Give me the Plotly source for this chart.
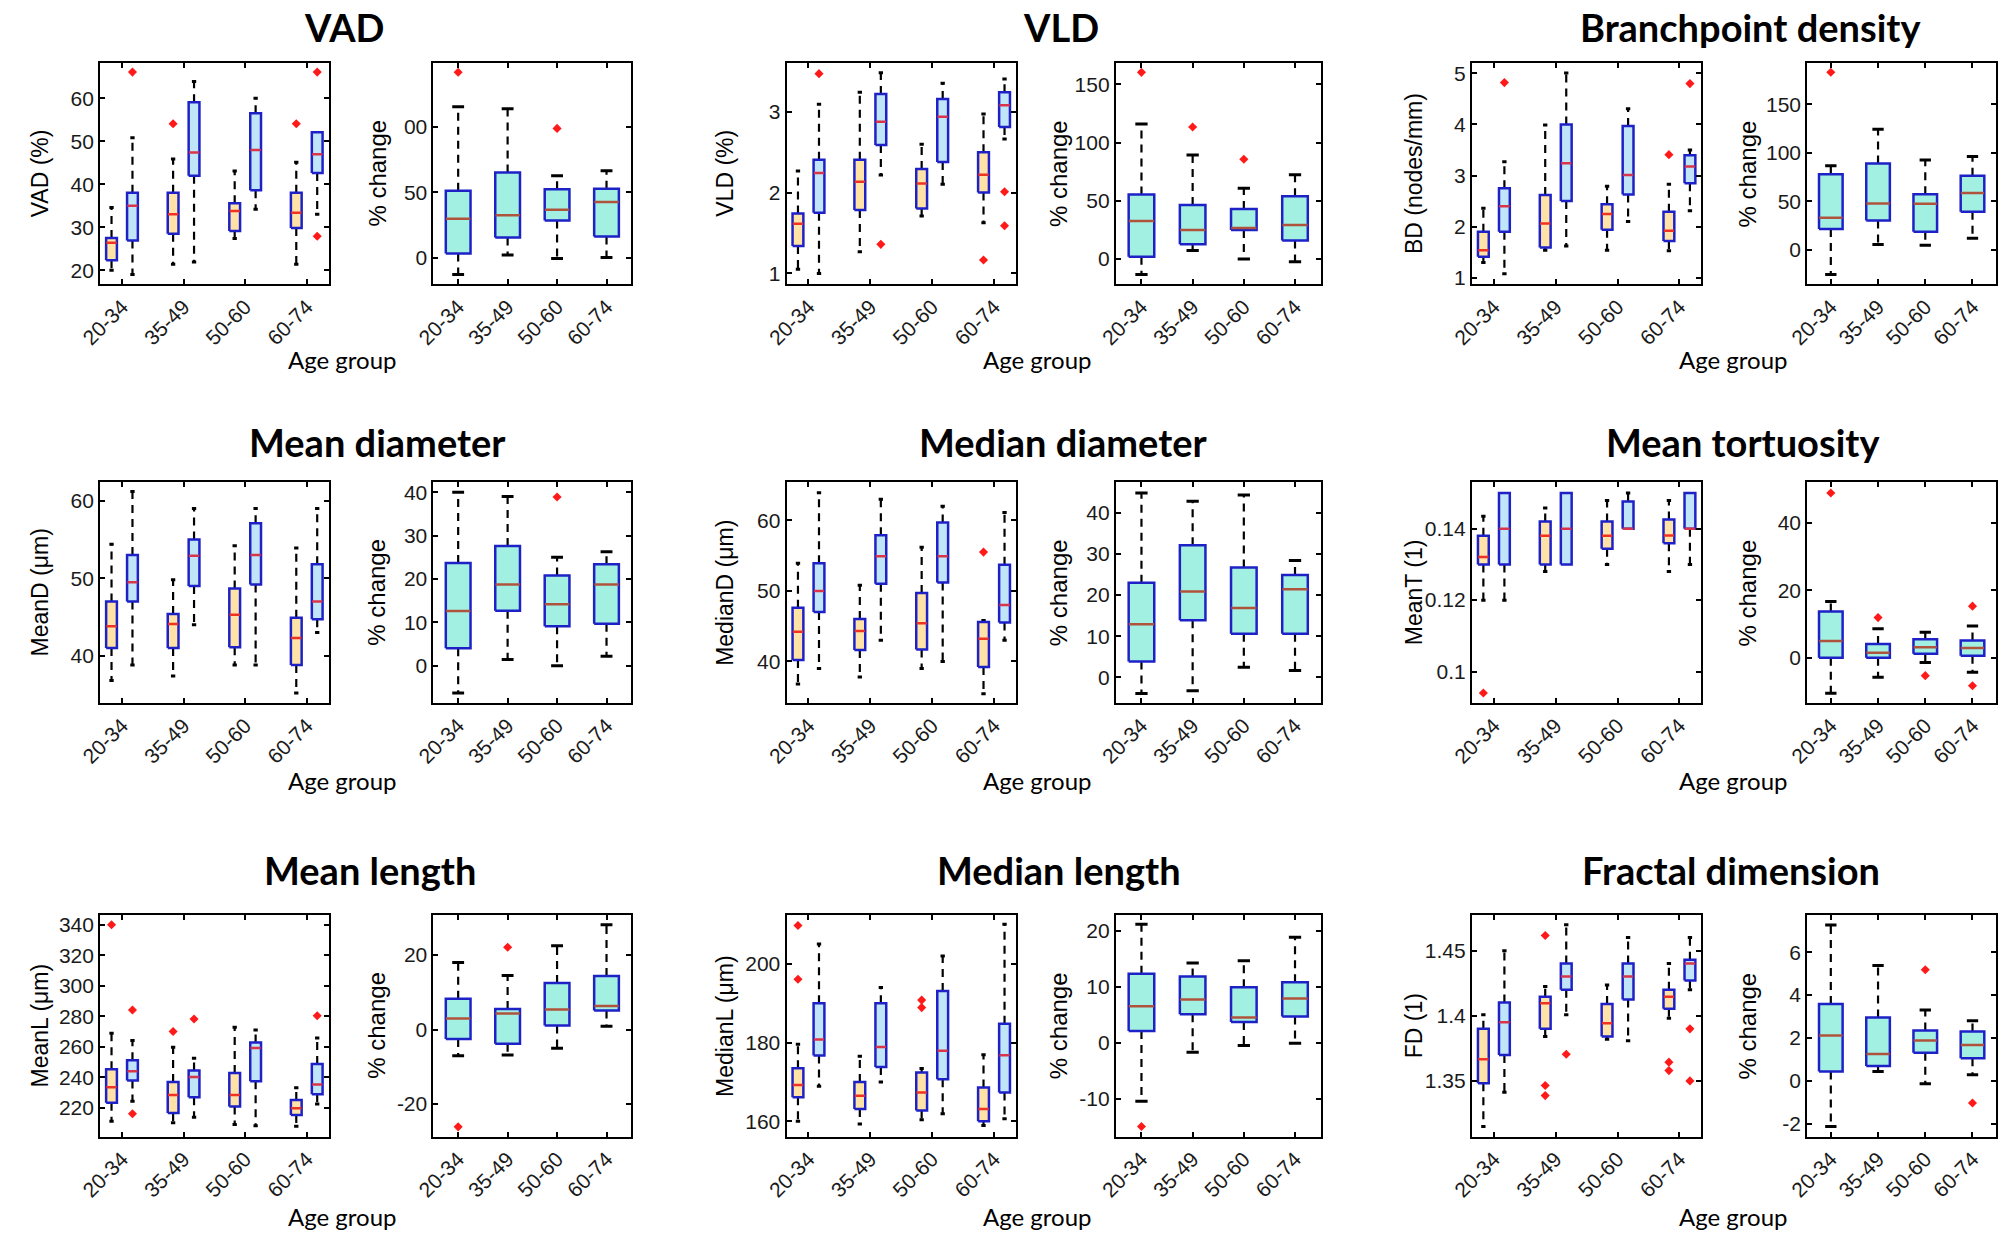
import plotly.graph_objects as go

W, H = 2006, 1238

groups = ["20-34", "35-49", "50-60", "60-74"]

# stats per group: [lower whisker, q1, median, q3, upper whisker]
vad_a = [[20.0, 22.3, 26.4, 27.5, 34.6], [21.4, 28.5, 33.0, 38.0, 45.9], [27.4, 29.1, 33.8, 35.6, 43.1], [21.4, 29.8, 33.4, 38.0, 45.1]]
vad_a_out = [[], [54.1], [], [54.1]]
vad_b = [[19.0, 26.9, 35.0, 38.0, 50.8], [21.9, 42.0, 47.4, 59.1, 63.9], [34.2, 38.6, 48.0, 56.5, 60.0], [33.0, 42.6, 47.0, 52.1, 52.1]]
vad_b_out = [[66.1], [], [], [66.1, 27.9]]
vad_pct = [[-12.4, 3.6, 30.0, 51.3, 115.2], [2.3, 15.7, 32.7, 65.2, 113.7], [-0.3, 28.7, 36.8, 52.3, 62.7], [0.5, 16.5, 42.6, 52.8, 66.5]]
vad_pct_out = [[141.4], [], [98.7], []]

vld_a = [[1.05, 1.338, 1.614, 1.742, 2.266], [1.268, 1.784, 2.134, 2.406, 3.239], [1.709, 1.804, 2.113, 2.291, 2.596], [1.627, 2.0, 2.221, 2.497, 2.971]]
vld_a_out = [[], [], [], [1.165]]
vld_b = [[1.0, 1.75, 2.241, 2.406, 3.091], [2.216, 2.588, 2.876, 3.219, 3.482], [2.101, 2.377, 2.938, 3.157, 3.351], [2.662, 2.81, 3.078, 3.239, 3.404]]
vld_b_out = [[3.47], [1.359], [], [2.01, 1.59]]
vld_pct = [[-13.2, 2.0, 32.6, 55.5, 115.9], [7.4, 12.6, 24.9, 46.4, 89.3], [0.0, 24.9, 26.6, 42.9, 60.7], [-2.3, 16.0, 29.2, 53.8, 72.4]]
vld_pct_out = [[160.3], [113.4], [85.6], []]

bd_a = [[1.30, 1.41, 1.54, 1.90, 2.36], [1.54, 1.59, 2.06, 2.62, 3.99], [1.54, 1.94, 2.25, 2.44, 2.79], [1.53, 1.72, 1.92, 2.29, 2.83]]
bd_a_out = [[], [], [], [3.41]]
bd_b = [[1.08, 1.90, 2.40, 2.75, 3.27], [1.62, 2.50, 3.24, 4.00, 5.01], [2.10, 2.63, 3.01, 3.97, 4.31], [2.31, 2.85, 3.18, 3.40, 3.50]]
bd_b_out = [[4.82], [], [], [4.80]]
bd_pct = [[-25.1, 21.6, 33.3, 77.9, 86.8], [5.8, 30.5, 48.0, 89.2, 124.3], [4.8, 18.9, 47.7, 57.3, 92.7], [12.0, 39.5, 58.7, 76.5, 96.4]]
bd_pct_out = [[183.0], [], [], []]

meand_a = [[36.8, 41.0, 43.8, 47.0, 54.4], [37.4, 41.0, 44.1, 45.4, 49.8], [38.8, 41.1, 45.3, 48.7, 54.2], [35.2, 38.8, 42.3, 44.9, 53.9]]
meand_a_out = [[], [], [], []]
meand_b = [[38.8, 47.0, 49.5, 53.0, 61.2], [44.0, 49.0, 52.9, 55.0, 59.0], [38.8, 49.2, 53.0, 57.1, 59.0], [43.0, 44.7, 47.0, 51.8, 59.0]]
meand_b_out = [[], [], [], []]
meand_pct = [[-6.3, 4.0, 12.6, 23.7, 40.0], [1.45, 12.7, 18.7, 27.6, 39.0], [0.0, 9.1, 14.2, 20.8, 25.0], [2.2, 9.7, 18.7, 23.4, 26.3]]
meand_pct_out = [[], [], [38.9], []]

mediand_a = [[36.8, 40.2, 44.2, 47.6, 53.9], [37.8, 41.6, 44.3, 46.0, 50.8], [39.0, 41.7, 45.4, 49.7, 56.2], [35.4, 39.2, 43.2, 45.6, 45.8]]
mediand_a_out = [[], [], [], [55.5]]
mediand_b = [[39.0, 47.0, 50.0, 53.9, 63.9], [43.0, 51.0, 54.9, 57.9, 63.0], [40.0, 51.2, 54.9, 59.7, 62.0], [43.0, 45.5, 48.0, 53.7, 61.1]]
mediand_b_out = [[], [], [], []]
mediand_pct = [[-3.9, 3.9, 12.9, 23.0, 44.8], [-3.2, 13.9, 20.9, 32.1, 42.8], [2.5, 10.6, 16.9, 26.7, 44.3], [1.7, 10.6, 21.4, 24.9, 28.4]]
mediand_pct_out = [[], [], [], []]

meant_a = [[0.120, 0.130, 0.1321, 0.138, 0.1435], [0.128, 0.130, 0.138, 0.142, 0.1458], [0.130, 0.1344, 0.138, 0.142, 0.1479], [0.128, 0.1359, 0.1381, 0.1426, 0.1479]]
meant_a_out = [[0.094], [], [], []]
meant_b = [[0.120, 0.130, 0.140, 0.150, 0.150], [0.130, 0.130, 0.140, 0.150, 0.150], [0.140, 0.140, 0.140, 0.1476, 0.150], [0.130, 0.140, 0.140, 0.150, 0.150]]
meant_b_out = [[], [], [], []]
meant_pct = [[-10.5, 0.0, 5.0, 13.7, 16.7], [-5.8, 0.0, 1.5, 4.1, 8.6], [-1.4, 1.2, 3.1, 5.5, 7.6], [-4.3, 0.6, 2.9, 5.1, 9.4]]
meant_pct_out = [[48.8], [11.9], [-5.3], [15.3, -8.3]]

meanl_a = [[211.3, 223.3, 233.5, 245.3, 268.9], [210.2, 216.7, 228.5, 237.0, 259.7], [209.1, 220.9, 228.5, 242.9, 272.8], [208.0, 215.4, 219.8, 225.2, 233.1]]
meanl_a_out = [[340.0], [270.0], [], []]
meanl_b = [[224.4, 237.9, 244.0, 251.2, 264.1], [213.9, 227.0, 240.3, 244.4, 252.5], [208.2, 237.4, 259.3, 262.8, 271.0], [222.6, 228.9, 235.3, 248.8, 265.8]]
meanl_b_out = [[284.1, 216.1], [278.2], [], [280.4]]
meanl_pct = [[-7.0, -2.5, 3.0, 8.3, 18.0], [-6.8, -3.8, 4.3, 5.5, 14.5], [-5.0, 1.1, 5.4, 12.5, 22.5], [0.9, 5.1, 6.3, 14.4, 28.1]]
meanl_pct_out = [[-26.1], [22.1], [], []]

medianl_a = [[160.0, 166.1, 169.2, 173.5, 179.6], [159.3, 163.1, 166.5, 170.0, 176.5], [160.4, 162.7, 167.3, 172.4, 173.4], [158.9, 160.0, 163.1, 168.6, 176.9]]
medianl_a_out = [[209.8, 196.1], [], [190.8, 188.9], []]
medianl_b = [[168.9, 176.7, 180.8, 190.0, 205.1], [170.0, 173.8, 178.9, 190.0, 194.0], [161.9, 170.7, 177.9, 193.1, 202.0], [160.6, 167.3, 176.8, 184.8, 210.1]]
medianl_b_out = [[], [], [], []]
medianl_pct = [[-10.4, 2.1, 6.5, 12.3, 21.1], [-1.7, 5.1, 7.7, 11.8, 14.2], [-0.5, 3.7, 4.5, 9.9, 14.6], [-0.1, 4.7, 7.9, 10.8, 18.8]]
medianl_pct_out = [[-14.9], [], [], []]

fd_a = [[1.3149, 1.3482, 1.3667, 1.390, 1.4008], [1.3841, 1.390, 1.4097, 1.4146, 1.4226], [1.3821, 1.3841, 1.3944, 1.4092, 1.4238], [1.3982, 1.4054, 1.4146, 1.420, 1.4403]]
fd_a_out = [[], [1.4618, 1.3464, 1.3387], [], [1.3644, 1.3579]]
fd_b = [[1.3413, 1.370, 1.3951, 1.4103, 1.450], [1.4008, 1.420, 1.4303, 1.4403, 1.470], [1.3808, 1.4126, 1.4303, 1.4403, 1.4603], [1.420, 1.4272, 1.4403, 1.4431, 1.4603]]
fd_b_out = [[], [1.3705], [], [1.390, 1.350]]
fd_pct = [[-2.12, 0.44, 2.12, 3.59, 7.27], [0.44, 0.70, 1.26, 2.96, 5.38], [-0.13, 1.31, 1.89, 2.35, 3.30], [0.29, 1.06, 1.68, 2.30, 2.80]]
fd_pct_out = [[], [], [5.18], [-1.03]]

titles = ["VAD", "VLD", "Branchpoint density", "Mean diameter", "Median diameter",
          "Mean tortuosity", "Mean length", "Median length", "Fractal dimension"]
ylabels = ["VAD (%)", "VLD (%)", "BD (nodes/mm)", "MeanD (\u03bcm)", "MedianD (\u03bcm)",
           "MeanT (1)", "MeanL (\u03bcm)", "MedianL (\u03bcm)", "FD (1)"]

abs_ticks = [[20, 30, 40, 50, 60], [1, 2, 3], [1, 2, 3, 4, 5], [40, 50, 60], [40, 50, 60],
             [0.1, 0.12, 0.14], [220, 240, 260, 280, 300, 320, 340], [160, 180, 200], [1.35, 1.4, 1.45]]
abs_ticktext = [["20", "30", "40", "50", "60"], ["1", "2", "3"], ["1", "2", "3", "4", "5"],
                ["40", "50", "60"], ["40", "50", "60"], ["0.1", "0.12", "0.14"],
                ["220", "240", "260", "280", "300", "320", "340"], ["160", "180", "200"],
                ["1.35", "1.4", "1.45"]]
pct_ticks = [[0, 50, 100], [0, 50, 100, 150], [0, 50, 100, 150], [0, 10, 20, 30, 40], [0, 10, 20, 30, 40],
             [0, 20, 40], [-20, 0, 20], [-10, 0, 10, 20], [-2, 0, 2, 4, 6]]
pct_ticktext = [["0", "50", "00"], ["0", "50", "100", "150"], ["0", "50", "100", "150"],
                ["0", "10", "20", "30", "40"], ["0", "10", "20", "30", "40"], ["0", "20", "40"],
                ["-20", "0", "20"], ["-10", "0", "10", "20"], ["-2", "0", "2", "4", "6"]]

series_a = [vad_a, vld_a, bd_a, meand_a, mediand_a, meant_a, meanl_a, medianl_a, fd_a]
series_a_out = [vad_a_out, vld_a_out, bd_a_out, meand_a_out, mediand_a_out, meant_a_out, meanl_a_out, medianl_a_out, fd_a_out]
series_b = [vad_b, vld_b, bd_b, meand_b, mediand_b, meant_b, meanl_b, medianl_b, fd_b]
series_b_out = [vad_b_out, vld_b_out, bd_b_out, meand_b_out, mediand_b_out, meant_b_out, meanl_b_out, medianl_b_out, fd_b_out]
series_pct = [vad_pct, vld_pct, bd_pct, meand_pct, mediand_pct, meant_pct, meanl_pct, medianl_pct, fd_pct]
series_pct_out = [vad_pct_out, vld_pct_out, bd_pct_out, meand_pct_out, mediand_pct_out, meant_pct_out, meanl_pct_out, medianl_pct_out, fd_pct_out]

# ---------- layout (pixels) ----------
abs_ranges = [[16.7, 68.3], [0.864, 3.606], [0.87, 5.21], [33.9, 62.4], [34.1, 65.4],
              [0.0912, 0.153], [201.2, 346.5], [156.1, 212.5], [1.3072, 1.4777]]
pct_ranges = [[-20, 148.7], [-21.8, 168.6], [-35.4, 192.9], [-8.6, 42.3], [-6.2, 47.4],
              [-13.4, 52.0], [-28.7, 30.8], [-16.7, 22.8], [-2.59, 7.74]]

col_px = [(79, 310, 416, 616), (773, 1005, 1106, 1313), (1466, 1698, 1805, 1996)]
row_px = [(61, 284), (483, 705), (918, 1141)]
title_px = [(326, 25), (1051, 25), (1748, 25), (359, 443), (1053, 443), (1740, 443),
            (352, 873), (1049, 873), (1728, 873)]
age_px_x = [324, 1027, 1730]
age_px_y = [360, 783, 1221]
ylab_abs_x = [18, 710, 1407]
ylab_pct_x = [359, 1048, 1745]

FILL_A = "#FFE2A6"
FILL_B = "#C0E4F8"
FILL_P = "#A2F0E2"
EDGE = "#1E22C6"
MED_A = "#EE3322"
MED_B = "#D8344A"
MED_P = "#B0533C"
OUT_C = "#FF1A1A"

fig = go.Figure()


def fx(px):
    return px / W


def fy(py):
    return 1 - py / H


def add_boxes(xa, ya, positions, stats, outs, bw, capw, fill, medc):
    wx, wy, cx, cy, bx, by, mx, my, ox, oy = [], [], [], [], [], [], [], [], [], []
    for pos, s, o in zip(positions, stats, outs):
        lo, q1, med, q3, hi = s
        if hi > q3:
            wx += [pos, pos, None]
            wy += [q3, hi, None]
            cx += [pos - capw / 2, pos + capw / 2, None]
            cy += [hi, hi, None]
        if lo < q1:
            wx += [pos, pos, None]
            wy += [q1, lo, None]
            cx += [pos - capw / 2, pos + capw / 2, None]
            cy += [lo, lo, None]
        bx += [pos - bw / 2, pos + bw / 2, pos + bw / 2, pos - bw / 2, pos - bw / 2, None]
        by += [q1, q1, q3, q3, q1, None]
        mx += [pos - bw / 2 + 0.004, pos + bw / 2 - 0.004, None]
        my += [med, med, None]
        ox += [pos] * len(o)
        oy += list(o)
    common = dict(xaxis=xa, yaxis=ya, hoverinfo="skip", showlegend=False)
    fig.add_trace(go.Scatter(x=wx, y=wy, mode="lines",
                             line=dict(color="black", width=2.2, dash="8px,6px"), **common))
    fig.add_trace(go.Scatter(x=cx, y=cy, mode="lines", line=dict(color="black", width=3), **common))
    fig.add_trace(go.Scatter(x=bx, y=by, mode="lines", fill="toself", fillcolor=fill,
                             line=dict(color=EDGE, width=2.5), **common))
    fig.add_trace(go.Scatter(x=mx, y=my, mode="lines", line=dict(color=medc, width=2.5), **common))
    if ox:
        fig.add_trace(go.Scatter(x=ox, y=oy, mode="markers",
                                 marker=dict(symbol="diamond", size=7, color=OUT_C), **common))


layout = {}
annotations = []
tickfont = dict(family="Liberation Sans, Arial, sans-serif", size=21, color="#1a1a1a")
axis_common = dict(showline=True, linecolor="black", linewidth=2, mirror="ticks",
                   ticks="inside", ticklen=5, tickwidth=1.5, tickcolor="black",
                   showgrid=False, zeroline=False, tickfont=tickfont, fixedrange=True)

for i in range(9):
    r, c = divmod(i, 3)
    ax0, ax1, px0, px1 = col_px[c]
    y0, y1 = row_px[r]
    n_abs = 2 * i + 1
    n_pct = 2 * i + 2
    xa_abs, ya_abs = f"x{n_abs}", f"y{n_abs}"
    xa_pct, ya_pct = f"x{n_pct}", f"y{n_pct}"
    sfx_abs = "" if n_abs == 1 else str(n_abs)
    sfx_pct = str(n_pct)

    layout[f"xaxis{sfx_abs}"] = dict(domain=[fx(ax0), fx(ax1)], anchor=ya_abs, range=[0.645, 4.355],
                                    tickvals=[1, 2, 3, 4], ticktext=groups, tickangle=-45, **axis_common)
    layout[f"yaxis{sfx_abs}"] = dict(domain=[fy(y1), fy(y0)], anchor=xa_abs, range=abs_ranges[i],
                                    tickvals=abs_ticks[i], ticktext=abs_ticktext[i], **axis_common)
    layout[f"xaxis{sfx_pct}"] = dict(domain=[fx(px0), fx(px1)], anchor=ya_pct, range=[0.5, 4.5],
                                    tickvals=[1, 2, 3, 4], ticktext=groups, tickangle=-45, **axis_common)
    layout[f"yaxis{sfx_pct}"] = dict(domain=[fy(y1), fy(y0)], anchor=xa_pct, range=pct_ranges[i],
                                    tickvals=pct_ticks[i], ticktext=pct_ticktext[i], **axis_common)

    pos_a = [g + 1 - 0.17 for g in range(len(groups))]
    pos_b = [g + 1 + 0.17 for g in range(len(groups))]
    pos_p = [g + 1 for g in range(len(groups))]
    add_boxes(xa_abs, ya_abs, pos_a, series_a[i], series_a_out[i], 0.175, 0.07, FILL_A, MED_A)
    add_boxes(xa_abs, ya_abs, pos_b, series_b[i], series_b_out[i], 0.175, 0.07, FILL_B, MED_B)
    add_boxes(xa_pct, ya_pct, pos_p, series_pct[i], series_pct_out[i], 0.5, 0.24, FILL_P, MED_P)

    tx, ty = title_px[i]
    annotations.append(dict(text="<b>" + titles[i] + "</b>", x=fx(tx), y=fy(ty), xref="paper", yref="paper",
                            xanchor="center", yanchor="middle", showarrow=False,
                            font=dict(family="Lato, sans-serif", size=38, color="black")))
    annotations.append(dict(text="Age group", x=fx(age_px_x[c]), y=fy(age_px_y[r]), xref="paper", yref="paper",
                            xanchor="center", yanchor="middle", showarrow=False,
                            font=dict(family="Lato, sans-serif", size=24, color="black")))
    ymid = fy((y0 + y1) / 2)
    annotations.append(dict(text=ylabels[i], x=fx(ylab_abs_x[c]), y=ymid, xref="paper", yref="paper",
                            xanchor="center", yanchor="middle", textangle=-90, showarrow=False,
                            font=dict(family="Liberation Sans, Arial, sans-serif", size=23, color="black")))
    annotations.append(dict(text="% change", x=fx(ylab_pct_x[c]), y=ymid, xref="paper", yref="paper",
                            xanchor="center", yanchor="middle", textangle=-90, showarrow=False,
                            font=dict(family="Liberation Sans, Arial, sans-serif", size=24, color="black")))

fig.update_layout(width=W, height=H, margin=dict(l=0, r=0, t=0, b=0),
                  paper_bgcolor="white", plot_bgcolor="white", showlegend=False,
                  annotations=annotations, **layout)

fig.write_html("out.html", config={"displayModeBar": False},
               post_script="document.body.style.margin='0';document.body.style.overflow='hidden';")
